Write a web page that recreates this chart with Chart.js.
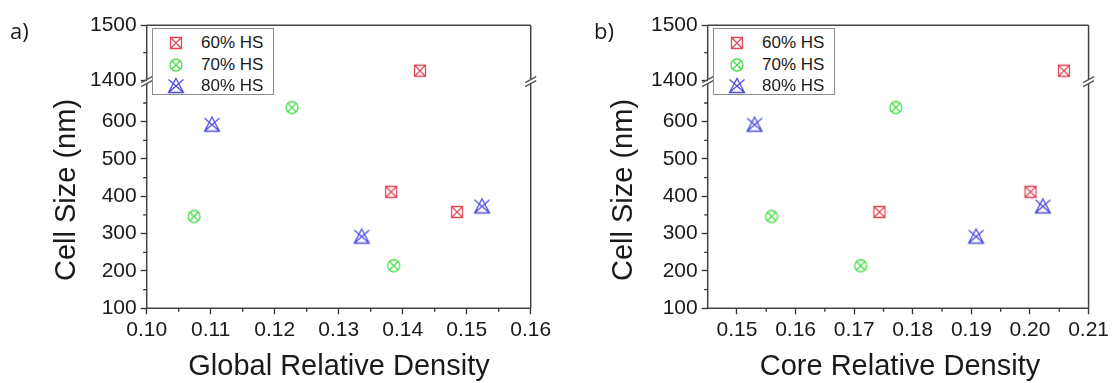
<!DOCTYPE html>
<html><head><meta charset="utf-8">
<script src="https://cdn.jsdelivr.net/npm/chart.js@4.4.1/dist/chart.umd.min.js"></script>
<style>
html,body{margin:0;padding:0;background:#fff;}
#wrap{position:relative;width:1112px;height:383px;overflow:hidden;font-family:"Liberation Sans",Arial,sans-serif;color:#1a1a1a;}
canvas.plot{position:absolute;top:0;width:556px;height:383px;}
.panel{position:absolute;font-family:"Open Sans",sans-serif;font-size:22px;line-height:22px;top:19px;}
.xt{position:absolute;font-size:29px;line-height:30px;height:30px;width:400px;text-align:center;white-space:nowrap;top:350px;}
.yt{position:absolute;font-size:29px;line-height:30px;height:30px;width:260px;text-align:center;white-space:nowrap;transform:rotate(-90deg);}
.legend{position:absolute;top:28px;width:122px;height:67px;border:1.5px solid #8c8c8c;background:#fff;box-sizing:border-box;}
.legend canvas{position:absolute;}
.legend span{position:absolute;font-size:17px;line-height:20px;height:20px;white-space:nowrap;}
</style>
</head><body>
<div id="wrap">
  <canvas id="chartA" class="plot" width="556" height="383" style="left:0px"></canvas>
  <canvas id="chartB" class="plot" width="556" height="383" style="left:556px"></canvas>
  <div class="panel" style="left:10px">a)</div>
  <div class="panel" style="left:594px">b)</div>
  <div class="xt" style="left:139px">Global Relative Density</div>
  <div class="xt" style="left:700px">Core Relative Density</div>
  <div class="yt" style="left:-65px;top:175px">Cell Size (nm)</div>
  <div class="yt" style="left:492px;top:175px">Cell Size (nm)</div>
  <div class="legend" id="legA" style="left:152px"></div>
  <div class="legend" id="legB" style="left:713px"></div>
</div>
<script>
// ---- data ----
const seriesLabels = ['60% HS', '70% HS', '80% HS'];
const cellSize60 = [1417, 412, 358];
const globalDensity60 = [0.1427, 0.1382, 0.1485];
const coreDensity60 = [0.2058, 0.2001, 0.1743];
const cellSize70 = [638, 346, 214];
const globalDensity70 = [0.1227, 0.1074, 0.1386];
const coreDensity70 = [0.1771, 0.1559, 0.1711];
const cellSize80 = [592, 292, 373];
const globalDensity80 = [0.1102, 0.1336, 0.1524];
const coreDensity80 = [0.1530, 0.1908, 0.2022];

const globalTicks = [0.10, 0.11, 0.12, 0.13, 0.14, 0.15, 0.16];
const coreTicks = [0.15, 0.16, 0.17, 0.18, 0.19, 0.20, 0.21];
const globalMinor = [0.105, 0.115, 0.125, 0.135, 0.145, 0.155];
const coreMinor = [0.155, 0.165, 0.175, 0.185, 0.195, 0.205];
const sizeTicksLow = [100, 200, 300, 400, 500, 600];
const sizeTicksHigh = [1400, 1500];
const sizeMinorLow = [150, 250, 350, 450, 550, 650];
const sizeMinorHigh = [1450];

const globalRange = [0.10, 0.16];
const coreRange = [0.145, 0.21];
const sizeRangeLow = [100, 707];
const sizeRangeHigh = [1397, 1500];

// ---- styles ----
const colors = ['rgb(226,72,88)', 'rgb(72,222,72)', 'rgb(78,78,222)'];
const kinds = ['rect', 'circle', 'tri'];
const AXIS = '#444';
const TXT = '#1a1a1a';
const FONT = {family: '"Liberation Sans", Arial, sans-serif', size: 21};

function makeMarker(kind, color) {
  const s = kind === 'tri' ? 20 : 16;
  const c = document.createElement('canvas');
  c.width = s; c.height = s;
  const g = c.getContext('2d');
  g.strokeStyle = color; g.lineWidth = 1.3;
  const m = s / 2;
  g.beginPath();
  if (kind === 'rect') {
    const r = 5.5;
    g.rect(m - r, m - r, 2 * r, 2 * r);
    g.moveTo(m - r, m - r); g.lineTo(m + r, m + r);
    g.moveTo(m + r, m - r); g.lineTo(m - r, m + r);
  } else if (kind === 'circle') {
    const r = 6, d = r * 0.707;
    g.arc(m, m, r, 0, Math.PI * 2);
    g.moveTo(m - d, m - d); g.lineTo(m + d, m + d);
    g.moveTo(m + d, m - d); g.lineTo(m - d, m + d);
  } else {
    g.moveTo(m, m - 7.5); g.lineTo(m + 7.5, m + 6.5); g.lineTo(m - 7.5, m + 6.5); g.closePath();
    g.moveTo(m - 7.5, m - 6.5); g.lineTo(m + 7.5, m + 6.5);
    g.moveTo(m + 7.5, m - 6.5); g.lineTo(m - 7.5, m + 6.5);
  }
  g.stroke();
  return c;
}

const framePlugin = {
  id: 'frame',
  afterDraw(chart, args, opts) {
    const ctx = chart.ctx, a = chart.chartArea;
    const xs = chart.scales.x, yl = chart.scales.yLow, yh = chart.scales.yHigh;
    const yb = yh.bottom;
    ctx.save();
    ctx.strokeStyle = AXIS; ctx.lineWidth = 1.5;
    ctx.beginPath();
    ctx.moveTo(a.left, a.top); ctx.lineTo(a.right, a.top);
    ctx.moveTo(a.left, a.bottom); ctx.lineTo(a.right, a.bottom);
    [a.left, a.right].forEach(x => {
      ctx.moveTo(x, a.top); ctx.lineTo(x, yb - 2);
      ctx.moveTo(x, yb + 2); ctx.lineTo(x, a.bottom);
    });
    ctx.stroke();
    // minor ticks
    ctx.lineWidth = 1.3; ctx.strokeStyle = '#333';
    ctx.beginPath();
    opts.xMinor.forEach(v => { const p = xs.getPixelForValue(v); ctx.moveTo(p, a.bottom); ctx.lineTo(p, a.bottom + 3.5); });
    sizeMinorLow.forEach(v => { const p = yl.getPixelForValue(v); ctx.moveTo(a.left - 3.5, p); ctx.lineTo(a.left, p); });
    sizeMinorHigh.forEach(v => { const p = yh.getPixelForValue(v); ctx.moveTo(a.left - 3.5, p); ctx.lineTo(a.left, p); });
    ctx.stroke();
    // break marks
    ctx.lineWidth = 1.4; ctx.strokeStyle = '#555';
    [a.left, a.right].forEach(x => {
      ctx.beginPath();
      [-2, 2].forEach(dy => {
        ctx.moveTo(x - 5.5, yb + dy + 3); ctx.lineTo(x + 5.5, yb + dy - 3);
      });
      ctx.stroke();
    });
    ctx.restore();
  }
};

function setTicks(values) { return s => { s.ticks = values.map(v => ({value: v})); }; }

function buildChart(id, xValues, xTicks, xMinor, xRange, padLeft, padRight) {
  const sizes = [cellSize60, cellSize70, cellSize80];
  const datasets = [];
  sizes.forEach((ys, i) => {
    const pts = ys.map((y, j) => ({x: xValues[i][j], y: y}));
    const marker = makeMarker(kinds[i], colors[i]);
    const common = {label: seriesLabels[i], pointStyle: marker, pointRadius: 8, showLine: false,
      borderColor: colors[i], backgroundColor: 'transparent'};
    datasets.push(Object.assign({}, common, {data: pts.filter(p => p.y <= sizeRangeLow[1]), yAxisID: 'yLow'}));
    datasets.push(Object.assign({}, common, {data: pts.filter(p => p.y >= sizeRangeHigh[0]), yAxisID: 'yHigh'}));
  });
  const grid = {drawOnChartArea: false, drawTicks: true, tickLength: 6, tickColor: '#333', tickWidth: 1.3};
  const yTickOpts = {font: FONT, color: TXT, padding: 4, autoSkip: false, callback: v => String(v)};
  return new Chart(document.getElementById(id), {
    type: 'scatter',
    data: {datasets},
    options: {
      responsive: false, animation: false, devicePixelRatio: 1,
      events: [],
      layout: {padding: {left: padLeft, right: padRight, top: 25.3, bottom: 0}},
      plugins: {legend: {display: false}, tooltip: {enabled: false}, frame: {xMinor}},
      scales: {
        x: {type: 'linear', position: 'bottom', min: xRange[0], max: xRange[1],
          afterBuildTicks: setTicks(xTicks),
          ticks: {font: FONT, color: TXT, padding: 3, autoSkip: false, maxRotation: 0,
            callback: v => Number(v).toFixed(2)},
          grid, border: {display: false},
          afterFit: s => { s.height = 74.7; }},
        yLow: {type: 'linear', position: 'left', stack: 'y', stackWeight: 226.6,
          min: sizeRangeLow[0], max: sizeRangeLow[1],
          afterBuildTicks: setTicks(sizeTicksLow),
          ticks: yTickOpts, grid, border: {display: false},
          afterFit: s => { s.width = 60; }},
        yHigh: {type: 'linear', position: 'left', stack: 'y', stackWeight: 56.4,
          min: sizeRangeHigh[0], max: sizeRangeHigh[1],
          afterBuildTicks: setTicks(sizeTicksHigh),
          ticks: yTickOpts, grid, border: {display: false},
          afterFit: s => { s.width = 60; }}
      }
    },
    plugins: [framePlugin]
  });
}

buildChart('chartA', [globalDensity60, globalDensity70, globalDensity80], globalTicks, globalMinor, globalRange, 86.7, 25.3);
buildChart('chartB', [coreDensity60, coreDensity70, coreDensity80], coreTicks, coreMinor, coreRange, 91.7, 20.3);

function buildLegend(id) {
  const el = document.getElementById(id);
  seriesLabels.forEach((lab, i) => {
    const mk = makeMarker(kinds[i], colors[i]);
    const cy = 14 + i * 21.5;
    mk.style.left = (23 - mk.width / 2) + 'px';
    mk.style.top = (cy - mk.height / 2) + 'px';
    el.appendChild(mk);
    const sp = document.createElement('span');
    sp.textContent = lab;
    sp.style.left = '48px';
    sp.style.top = (cy - 10) + 'px';
    el.appendChild(sp);
  });
}
buildLegend('legA');
buildLegend('legB');
</script>
</body></html>
